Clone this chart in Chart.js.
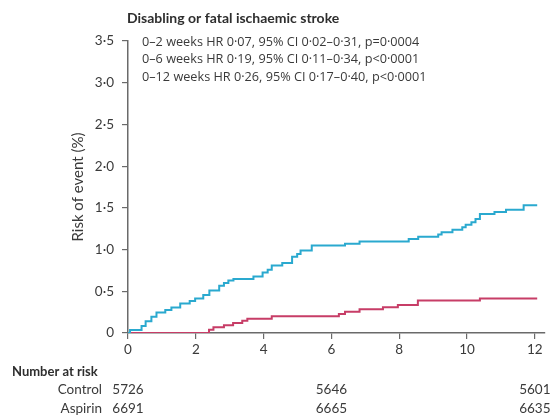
<!DOCTYPE html>
<html>
<head>
<meta charset="utf-8">
<script src="https://cdn.jsdelivr.net/npm/chart.js@4.4.1/dist/chart.umd.min.js"></script>
<style>
  html, body { margin: 0; padding: 0; background: #ffffff; }
  #wrap { width: 551px; height: 419px; position: relative; }
</style>
</head>
<body>
<div id="wrap"><canvas id="chart" width="551" height="419"></canvas></div>
<script>
// Axis ticks
const weekTicks = [0, 2, 4, 6, 8, 10, 12];
const riskTicks = [0, 0.5, 1, 1.5, 2, 2.5, 3, 3.5];

// Kaplan-Meier steps: week at which the cumulative risk (%) changes, and the new value
const controlWeeks = [0, 0.06, 0.40, 0.52, 0.69, 0.84, 1.10, 1.28, 1.54, 1.82, 1.98, 2.22, 2.40, 2.69, 2.83, 2.96, 3.11, 3.70, 3.97, 4.12, 4.24, 4.55, 4.84, 4.99, 5.09, 5.42, 6.40, 6.83, 8.28, 8.56, 9.15, 9.25, 9.57, 9.86, 9.96, 10.13, 10.25, 10.38, 10.81, 11.15, 11.67, 12.07];
const controlRisk  = [0, 0.035, 0.085, 0.14, 0.195, 0.245, 0.275, 0.305, 0.355, 0.385, 0.415, 0.455, 0.51, 0.565, 0.60, 0.628, 0.648, 0.677, 0.725, 0.757, 0.81, 0.838, 0.913, 0.948, 0.99, 1.048, 1.07, 1.097, 1.127, 1.155, 1.18, 1.208, 1.238, 1.268, 1.298, 1.326, 1.367, 1.425, 1.45, 1.478, 1.53, 1.53];

const aspirinWeeks = [0, 2.39, 2.52, 2.83, 3.10, 3.37, 3.52, 4.24, 6.22, 6.40, 6.83, 7.52, 7.96, 8.55, 10.38, 12.07];
const aspirinRisk  = [0, 0.04, 0.07, 0.094, 0.12, 0.146, 0.17, 0.20, 0.228, 0.256, 0.285, 0.31, 0.335, 0.389, 0.415, 0.415];

// Number at risk table
const atRiskWeeks = [0, 6, 12];
const controlAtRisk = [5726, 5646, 5601];
const aspirinAtRisk = [6691, 6665, 6635];

const titleText = 'Disabling or fatal ischaemic stroke';
const hrLines = [
  '0–2 weeks HR 0·07, 95% CI 0·02–0·31, p=0·0004',
  '0–6 weeks HR 0·19, 95% CI 0·11–0·34, p<0·0001',
  '0–12 weeks HR 0·26, 95% CI 0·17–0·40, p<0·0001'
];

const FONT = 'Lato, "Open Sans", sans-serif';
const HR_FONT = '"Open Sans", Lato, sans-serif';
const TEXT = '#3a3a3a';
const AXIS = '#6a6a6a';
const CONTROL_COLOR = '#2aa9cf';
const ASPIRIN_COLOR = '#c73d67';

const toPoints = (xs, ys) => xs.map((x, i) => ({ x: x, y: ys[i] }));
const fmt = v => (v === 0 ? '0' : v.toFixed(1).replace('.', '·'));

const annotations = {
  id: 'annotations',
  afterDraw(chart) {
    const ctx = chart.ctx;
    const xs = chart.scales.x;
    ctx.save();
    ctx.textBaseline = 'middle';

    ctx.font = 'bold 14px ' + FONT;
    ctx.textAlign = 'left';
    ctx.fillStyle = '#2e2e2e';
    ctx.fillText(titleText, 127, 18);

    ctx.fillStyle = TEXT;
    ctx.font = '12.7px ' + HR_FONT;
    const ys = [42, 59.5, 77];
    hrLines.forEach((t, i) => ctx.fillText(t, 142, ys[i]));

    ctx.font = 'bold 13px ' + FONT;
    ctx.fillStyle = '#2e2e2e';
    ctx.fillText('Number at risk', 12, 372);

    ctx.fillStyle = TEXT;
    ctx.font = '13.5px ' + FONT;
    ctx.textAlign = 'right';
    ctx.fillText('Control', 102, 390);
    ctx.fillText('Aspirin', 102, 409);

    ctx.textAlign = 'center';
    atRiskWeeks.forEach((w, i) => {
      const px = xs.getPixelForValue(w);
      ctx.fillText(String(controlAtRisk[i]), px, 390);
      ctx.fillText(String(aspirinAtRisk[i]), px, 409);
    });
    ctx.restore();
  }
};

new Chart(document.getElementById('chart'), {
  type: 'line',
  data: {
    datasets: [
      {
        label: 'Control',
        data: toPoints(controlWeeks, controlRisk),
        borderColor: CONTROL_COLOR,
        borderWidth: 2,
        stepped: 'before',
        pointRadius: 0,
        fill: false
      },
      {
        label: 'Aspirin',
        data: toPoints(aspirinWeeks, aspirinRisk),
        borderColor: ASPIRIN_COLOR,
        borderWidth: 2,
        stepped: 'before',
        pointRadius: 0,
        fill: false
      }
    ]
  },
  options: {
    responsive: false,
    animation: false,
    devicePixelRatio: 1,
    layout: { padding: { left: 0, top: 41, right: 6, bottom: 0 } },
    plugins: { legend: { display: false }, tooltip: { enabled: false } },
    scales: {
      x: {
        type: 'linear',
        min: 0,
        max: 12.3,
        afterBuildTicks: s => { s.ticks = weekTicks.map(v => ({ value: v })); },
        afterFit: s => { s.height = 86; },
        ticks: {
          autoSkip: false,
          maxRotation: 0,
          padding: 3,
          color: TEXT,
          font: { family: FONT, size: 13.5 },
          callback: v => String(v)
        },
        grid: { display: true, drawOnChartArea: false, drawTicks: true, tickLength: 6, color: AXIS, lineWidth: 1.2 },
        border: { display: true, color: AXIS, width: 1.5 }
      },
      y: {
        min: 0,
        max: 3.5,
        afterBuildTicks: s => { s.ticks = riskTicks.map(v => ({ value: v })); },
        afterFit: s => { s.width = 128; },
        ticks: {
          padding: 8,
          color: TEXT,
          font: { family: FONT, size: 13.5 },
          callback: v => fmt(v)
        },
        title: {
          display: true,
          text: 'Risk of event (%)',
          color: TEXT,
          font: { family: FONT, size: 15 },
          padding: { top: 69, bottom: 0 }
        },
        grid: { display: true, drawOnChartArea: false, drawTicks: true, tickLength: 6, color: AXIS, lineWidth: 1.2 },
        border: { display: true, color: AXIS, width: 1.5 }
      }
    }
  },
  plugins: [annotations]
});
</script>
</body>
</html>
